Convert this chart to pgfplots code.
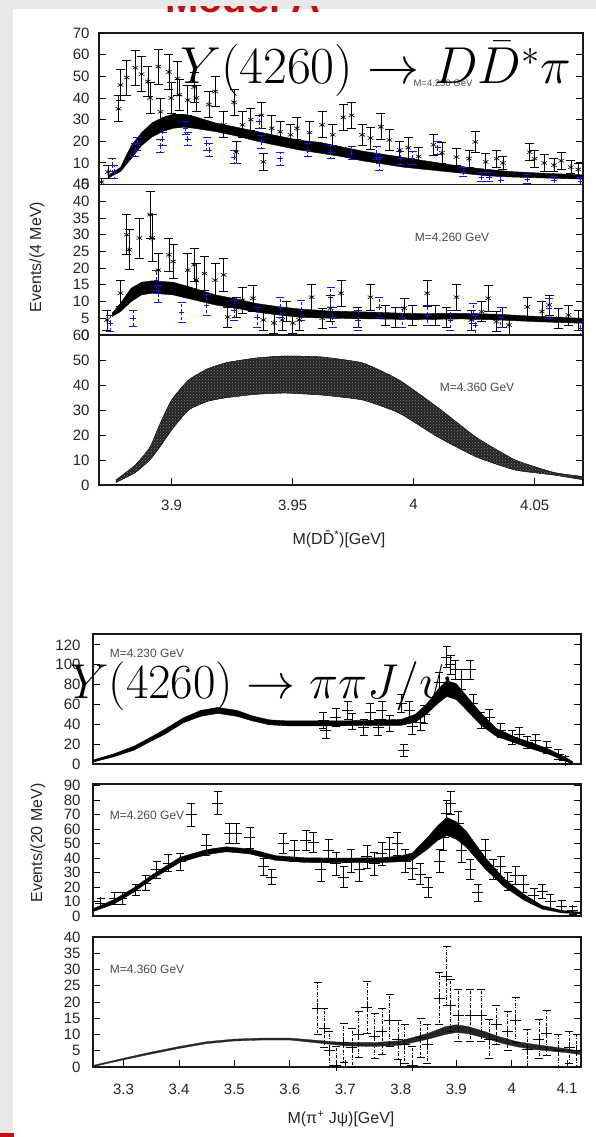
\RequirePackage{fix-cm}
\documentclass[border=0pt]{standalone}
\usepackage[no-math]{fontspec}
\setmainfont{Liberation Sans}
\usepackage{pgfplots}
\pgfplotsset{compat=1.18}
\usepackage{pgfplotstable}
\usetikzlibrary{patterns}
\definecolor{datblue}{RGB}{20,20,230}
\definecolor{slidered}{RGB}{200,15,15}

% ---------------- top group: D Dbar* pi ----------------
\pgfplotstableread{
x y e
3.8710 1.2 1.5
3.8737 5.8 3
3.8781 35 6
3.8789 46 7
3.8815 49.4 8
3.8850 54 8
3.8876 51 8
3.8902 47.6 7
3.8911 40 7
3.8945 54.5 8
3.8954 33.6 6
3.8989 52 8
3.8998 40 7
3.9024 49 8
3.9032 41.5 7
3.9067 39 7
3.9093 45 7
3.9102 40 6
3.9154 37 6
3.9180 43 7
3.9215 27.6 6
3.9258 38 6
3.9267 15 5
3.9293 27.6 6
3.9327 30 5
3.9371 32 6
3.9379 10.5 4
3.9414 26 6
3.9449 24.4 5
3.9492 23 5
3.9518 26 5
3.9570 24 5
3.9622 27.6 6
3.9666 23 5
3.9709 31 6
3.9744 32 6
3.9787 23 5
3.9822 21.5 5
3.9865 26.7 6
3.9900 20.6 5
3.9943 16 4
3.9978 17 5
4.0021 13 4
4.0082 18.4 5
4.0117 14.7 5
4.0177 12.7 4
4.0229 12 4
4.0255 19.7 5
4.0298 10.5 4
4.0343 12 4
4.0369 10 3
4.0480 15 4
4.0500 12 4
4.0540 10 4
4.0580 9 3
4.0610 11 4
4.0650 8 3
4.0680 7 3
}\dAk
\pgfplotstableread{
x y e
3.8754 9 3
3.8763 6 3
3.8850 16 3
3.8859 19 3
3.8954 18 3
3.8963 21 3
3.9058 26 3
3.9067 21 3
3.9145 19 3
3.9154 16 3
3.9258 12.6 3
3.9362 29 3
3.9371 19.8 3
3.9449 12 3
3.9562 16 3
3.9657 15 3
3.9744 14.6 3
3.9848 14.6 3
3.9857 9.7 3
3.9944 12.3 3
3.9996 12.3 3
4.0100 17 3
4.0206 5.8 2
4.0280 3.5 2
4.0312 3.5 2
4.0360 2 2
4.0470 2.5 2
4.0580 2 2
4.0690 1.5 2
}\dAb
\pgfplotstableread{
x y
3.8737 4
3.8789 8
3.8833 18
3.8876 24
3.8919 28.5
3.8963 31
3.9006 32.5
3.9050 32.5
3.9093 31.5
3.9180 28.5
3.9267 26.5
3.9353 24.5
3.9440 22.5
3.9527 20.5
3.9614 19.5
3.9700 17.5
3.9787 15.5
3.9874 14
3.9961 12.5
4.0047 11
4.0134 9.5
4.0221 8
4.0308 7
4.0403 6
4.0550 5.2
4.0700 4.5
4.0700 2.5
4.0550 3
4.0403 3.5
4.0308 4
4.0221 5
4.0134 6
4.0047 7
3.9961 8
3.9874 9.5
3.9787 11
3.9700 13
3.9614 14.5
3.9527 16
3.9440 18
3.9353 20
3.9267 22.5
3.9180 24.5
3.9093 26
3.9050 26.5
3.9006 26
3.8963 24.5
3.8919 22
3.8876 18
3.8833 12
3.8789 6
3.8737 3
}\bA

\pgfplotstableread{
x y e
3.8733 4.5 3
3.8789 12.5 4
3.8815 30 6
3.8824 25.5 6
3.8867 29 6
3.8911 36 7
3.8919 29 7
3.8945 19.4 5
3.8989 24 5
3.9006 22 5
3.9067 19.4 5
3.9093 21 5
3.9102 16.5 5
3.9136 18.4 5
3.9180 16.4 5
3.9215 18 5
3.9232 5.4 3
3.9267 8.3 3
3.9293 10.4 4
3.9336 11 4
3.9379 4.5 3
3.9423 3.6 3
3.9457 4.5 3
3.9475 7 3
3.9501 3.6 3
3.9527 4.5 3
3.9579 11.3 4
3.9622 5 3
3.9657 8 4
3.9700 12.5 4
3.9770 5.4 3
3.9822 11.3 4
3.9883 6 3
3.9926 5.4 3
3.9961 8 3
3.9995 6 3
4.0056 12.5 4
4.0091 6 3
4.0134 5.4 3
4.0177 11.3 4
4.0238 4.5 3
4.0281 7 3
4.0308 11 4
4.0342 4 3
4.0368 5.4 3
4.0394 3 3
4.0470 8.4 3
4.0530 7 3
4.0560 9 3
4.0600 5 3
4.0640 6 3
4.0680 4.5 3
}\dBk
\pgfplotstableread{
x y e
3.8746 3.5 2.5
3.8841 5 2.5
3.8937 16.4 3
3.8945 12.4 2.5
3.9041 6.8 3
3.9145 9 3
3.9258 7.4 3
3.9353 5.4 3
3.9449 8.3 3
3.9536 7.4 3
3.9657 11.3 3
3.9666 5.4 3
3.9770 4.5 3
3.9857 8.3 3
3.9952 5.4 3
4.0056 6 3
4.0152 4.5 3
4.0247 6.5 3
4.0255 3 3
4.0360 5.4 3
4.0560 8 3
4.0690 2 2
}\dBb
\pgfplotstableread{
x y
3.8754 6.5
3.8789 9.5
3.8833 14
3.8876 15.8
3.8919 16.2
3.9006 15.8
3.9093 14
3.9180 12
3.9267 10.8
3.9353 9.4
3.9440 8.5
3.9527 7.8
3.9650 7.2
3.9850 6.8
4.0000 6.4
4.0200 6.5
4.0350 6.2
4.0500 5.6
4.0700 5
4.0700 3.5
4.0500 4
4.0350 4.5
4.0200 4.8
4.0000 4.6
3.9850 4.8
3.9650 5
3.9527 5.3
3.9440 6
3.9353 6.8
3.9267 8
3.9180 9
3.9093 10.5
3.9006 12
3.8919 12.5
3.8876 12
3.8833 10
3.8789 7
3.8754 5.5
}\bB
\pgfplotstableread{
x y
3.877 2
3.885 8
3.891 15
3.895 24
3.900 34
3.907 42
3.915 46.5
3.923 49
3.935 50.8
3.947 51.6
3.962 51.2
3.979 48.8
3.994 42
4.010 31
4.026 19
4.042 10
4.058 5
4.071 3.2
4.071 2
4.058 4
4.042 6
4.026 11.2
4.010 19.2
3.994 28.8
3.979 34
3.962 36
3.947 36.8
3.935 36.3
3.923 35
3.915 33.5
3.907 30
3.900 22
3.895 15
3.891 10
3.885 5
3.877 1
}\bC

% ---------------- bottom group: pi pi J/psi ----------------
\pgfplotstableread{
x y e
3.660 44 8
3.665 34 8
3.683 47 9
3.704 54 9
3.712 43 8
3.733 37 8
3.745 52 9
3.759 37 8
3.766 54 9
3.780 41 8
3.801 61 9
3.805 14 6
3.815 54 9
3.821 38 8
3.836 42 8
3.842 50 9
3.869 82 10
3.883 108 11
3.890 100 10
3.898 95 10
3.910 85 10
3.925 95 10
3.930 61 9
3.945 44 8
3.960 47 8
3.980 34 7
4.001 27 7
4.014 30 7
4.028 22 6
4.043 24 6
4.063 17 6
4.084 10 5
4.096 4 4
}\dD
\pgfplotstableread{
x y
3.245 4
3.284 10.5
3.319 18
3.346 26
3.373 34.5
3.408 46.5
3.439 54
3.470 57
3.505 54
3.532 48.5
3.563 44.5
3.594 43.5
3.650 43.5
3.697 43.5
3.750 44
3.801 45
3.826 50
3.846 60
3.867 75
3.883 84
3.900 81
3.921 67
3.945 51
3.972 36
4.007 27
4.043 20
4.069 14.5
4.096 7
4.110 2.5
4.110 0.3
4.096 3
4.069 9.5
4.043 14
4.007 21
3.972 28
3.945 39
3.921 53
3.900 65
3.883 68
3.867 61
3.846 50
3.826 42
3.801 39
3.750 39
3.697 38.5
3.650 38.5
3.594 38.5
3.563 39.5
3.532 43.5
3.505 48
3.470 51
3.439 48
3.408 41.5
3.373 29.5
3.346 22
3.319 14
3.284 7.5
3.245 2
}\bD
\pgfplotstableread{
x y e
3.259 9 3
3.284 12.4 4
3.297 12 4
3.322 18 4
3.340 22.8 5
3.360 32 6
3.381 36.6 6
3.402 37.4 6
3.422 70 8
3.449 49 7
3.470 78 8
3.491 57 7
3.503 57 7
3.528 54 7
3.553 34 6
3.567 27 5
3.588 50 7
3.608 45 7
3.629 52 7
3.642 51 7
3.656 32 8
3.670 45 8
3.683 36 8
3.697 27 7
3.710 38 8
3.725 32 8
3.739 41 8
3.752 36 8
3.766 43 8
3.780 46 8
3.794 50 8
3.808 38 8
3.821 33 8
3.835 29 7
3.849 20 7
3.870 38 8
3.877 54 9
3.883 71 9
3.890 78 8
3.904 64 8
3.910 45 8
3.925 32 7
3.939 16 6
3.952 45 8
3.966 32 7
3.980 34 7
3.993 24 6
4.007 28 6
4.021 22 6
4.040 14 5
4.055 17 5
4.070 10 5
4.090 7 4
4.110 4 3
}\dE
\pgfplotstableread{
x y
3.245 5
3.284 11.5
3.319 19.5
3.352 28.5
3.402 40.5
3.450 45.8
3.485 47.7
3.528 46.2
3.574 41.6
3.629 40.1
3.700 39.9
3.766 40.2
3.801 41.5
3.821 43.5
3.848 54
3.866 62
3.883 68
3.900 65
3.918 58.5
3.952 40.5
3.987 25.5
4.022 15
4.055 7.2
4.090 3.8
4.125 2.6
4.125 1.4
4.090 2.2
4.055 4.8
4.022 11
3.987 20
3.952 32.5
3.918 47.5
3.900 53
3.883 55.5
3.866 52
3.848 46
3.821 38.5
3.801 37.5
3.766 36.8
3.700 36.7
3.629 36.9
3.574 38.4
3.528 42.8
3.485 44.3
3.450 42.3
3.402 37
3.352 25.5
3.319 16.5
3.284 8.5
3.245 3
}\bE
\pgfplotstableread{
x y e
3.650 18 8
3.662 12 6
3.671 5 6
3.683 0.5 6
3.697 7.5 6
3.712 6 6
3.724 10 7
3.739 18.5 8
3.753 9.6 7
3.766 11 7
3.780 14.5 8
3.795 8.5 6
3.807 7 6
3.821 0.5 6
3.836 9 6
3.848 7 6
3.869 21 8
3.883 28 9
3.890 19 8
3.904 16 8
3.925 16 8
3.945 16 8
3.960 8.6 6
3.972 13 6
3.993 11 6
4.007 14.5 7
4.028 5.5 6
4.049 8.6 6
4.063 10.5 7
4.084 5 5
4.104 6 5
4.117 5 5
}\dF
\pgfplotstableread{
x y
3.245 0.5
3.30 2.7
3.35 4.6
3.40 6.3
3.45 7.8
3.50 8.6
3.55 8.9
3.60 8.9
3.65 8.2
3.70 7.5
3.75 7.5
3.80 8.1
3.85 10.4
3.88 12.4
3.90 13.0
3.92 12.5
3.95 11.0
3.98 9.2
4.01 7.8
4.04 7.0
4.07 6.3
4.10 5.6
4.125 4.8
4.125 3.8
4.10 4.4
4.07 4.9
4.04 5.4
4.01 6.2
3.98 7.4
3.95 9.0
3.92 10.3
3.90 10.6
3.88 10.0
3.85 8.6
3.80 6.7
3.75 6.3
3.70 6.5
3.65 7.4
3.60 8.3
3.55 8.3
3.50 8.0
3.45 7.2
3.40 5.7
3.35 4.0
3.30 2.2
3.245 0.1
}\bF

\pgfplotsset{
  panel/.style={scale only axis, axis line style={line width=1.1pt, black!90},
    tick align=inside, major tick length=7pt, tick style={black, line width=0.9pt},
    ytick pos=both, xtick pos=left, ymin=0,
    tick label style={font=\fontsize{15}{15}\selectfont, text=black!85},
    /pgf/number format/assume math mode=true,
    yticklabel style={xshift=-6pt}, xticklabel style={yshift=-11pt}},
  grA/.style={panel, width=484pt, xmin=3.870, xmax=4.070},
  grB/.style={panel, width=488pt, xmin=3.245, xmax=4.125,
    yticklabel style={xshift=-3pt}, xticklabel style={yshift=-2pt}},
  errK/.style={only marks, mark=asterisk, mark size=3.2pt, black,
    mark options={line width=0.6pt},
    error bars/.cd, y dir=both, y explicit,
    error mark options={rotate=90, mark size=4.5pt, black, line width=0.7pt},
    error bar style={line width=0.7pt, black}},
  errBl/.style={only marks, mark=+, mark size=2.8pt, datblue,
    mark options={line width=0.7pt},
    error bars/.cd, y dir=both, y explicit,
    error mark options={rotate=90, mark size=4pt, line width=0.8pt, datblue},
    error bar style={line width=0.7pt, densely dashed, datblue}},
  errP/.style={only marks, mark=+, mark size=5.5pt, black,
    mark options={line width=0.6pt},
    error bars/.cd, y dir=both, y explicit,
    error mark options={rotate=90, mark size=4pt, black, line width=0.6pt},
    error bar style={line width=0.6pt, black}},
  errPd/.style={only marks, mark=+, mark size=5.5pt, black,
    mark options={line width=0.6pt},
    error bars/.cd, y dir=both, y explicit,
    error mark options={rotate=90, mark size=4pt, black, line width=0.6pt},
    error bar style={line width=0.6pt, black, dash pattern=on 3pt off 1.5pt on 1pt off 1.5pt}},
}

\begin{document}
\begin{tikzpicture}
\fill[black!9] (0pt,0pt) rectangle (596pt,-1137pt);
\fill[white] (13pt,-9pt) rectangle (596pt,-1137pt);
\node[anchor=base, inner sep=0pt, text=slidered, font=\bfseries\fontsize{40}{40}\selectfont] at (243pt,-12.5pt) {Model A};
\fill[black!9] (0pt,0pt) rectangle (596pt,-6pt);
\fill[slidered] (0pt,-1133pt) rectangle (14pt,-1137pt);

% ---- A1
\begin{axis}[grA, at={(99pt,-33pt)}, anchor=north west, height=151.6pt, ymax=70,
  ytick={0,10,...,70}, xtick=\empty]
\addplot[fill=black, draw=black, line width=0.4pt, forget plot] table[x=x,y=y]{\bA};
\addplot[errK] table[x=x,y=y,y error=e]{\dAk};
\addplot[errBl] table[x=x,y=y,y error=e]{\dAb};
\end{axis}

% ---- A2
\begin{axis}[grA, at={(99pt,-184.6pt)}, anchor=north west, height=150.4pt, ymax=45,
  ytick={0,5,...,45}, xtick=\empty]
\addplot[fill=black, draw=black, line width=0.4pt, forget plot] table[x=x,y=y]{\bB};
\addplot[errK] table[x=x,y=y,y error=e]{\dBk};
\addplot[errBl] table[x=x,y=y,y error=e]{\dBb};
\end{axis}

% ---- A3
\begin{axis}[grA, at={(99pt,-335pt)}, anchor=north west, height=150pt, ymax=60,
  ytick={0,10,...,60}, xtick={3.9,3.95,4,4.05}]
\addplot[fill=black!86, draw=black!90, line width=0.4pt, smooth, tension=0.3, forget plot,
  postaction={pattern=crosshatch dots, pattern color=black!50}] table[x=x,y=y]{\bC};
\end{axis}

% ---- B1
\begin{axis}[grB, at={(93pt,-634pt)}, anchor=north west, height=130pt, ymax=131,
  ytick={0,20,...,120}, xtick=\empty]
\addplot[fill=black, draw=black, line width=0.4pt, forget plot] table[x=x,y=y]{\bD};
\addplot[errP] table[x=x,y=y,y error=e]{\dD};
\end{axis}

% ---- B2
\begin{axis}[grB, at={(93pt,-784pt)}, anchor=north west, height=132pt, ymax=91,
  ytick={0,10,...,90}, xtick=\empty]
\addplot[fill=black, draw=black, line width=0.4pt, forget plot] table[x=x,y=y]{\bE};
\addplot[errP] table[x=x,y=y,y error=e]{\dE};
\end{axis}

% ---- B3
\begin{axis}[grB, at={(93pt,-937pt)}, anchor=north west, height=130pt, ymax=40,
  ytick={0,5,...,40}, xtick={3.3,3.4,3.5,3.6,3.7,3.8,3.9,4,4.1}]
\addplot[fill=black!85, draw=black!85, line width=0.3pt, forget plot] table[x=x,y=y]{\bF};
\addplot[errPd] table[x=x,y=y,y error=e]{\dF};
\end{axis}

% ---- labels
\begin{scope}[every node/.style={inner sep=0pt, text=black!70, font=\fontsize{12}{12}\selectfont}]
\node[font=\fontsize{9.5}{9.5}\selectfont] at (443pt,-83pt) {M=4.230 GeV};
\node at (452pt,-237pt) {M=4.260 GeV};
\node at (477pt,-387pt) {M=4.360 GeV};
\node at (147pt,-653pt) {M=4.230 GeV};
\node at (147pt,-815pt) {M=4.260 GeV};
\node at (147pt,-969pt) {M=4.360 GeV};
\end{scope}
\begin{scope}[every node/.style={inner sep=0pt, text=black!85, font=\fontsize{16}{16}\selectfont}]
\node[rotate=90] at (37pt,-257pt) {Events/(4 MeV)};
\node[rotate=90] at (38pt,-843pt) {Events/(20 MeV)};
\node at (339pt,-539pt) {M(D\={D}\textsuperscript{*})[GeV]};
\node at (341pt,-1119pt) {M(π\textsuperscript{+} Jψ)[GeV]};
\end{scope}

\node[anchor=base west, inner sep=0pt] at (180pt,-84pt) {\fontsize{52}{60}\selectfont $Y(4260)\to D\bar D^*\pi$};
\node[anchor=base west, inner sep=0pt] at (70pt,-698pt) {\fontsize{49}{56}\selectfont $Y(4260)\to \pi\pi J/\psi$};

\pgfresetboundingbox
\useasboundingbox (0pt,0pt) rectangle (596pt,-1137pt);
\end{tikzpicture}
\end{document}
